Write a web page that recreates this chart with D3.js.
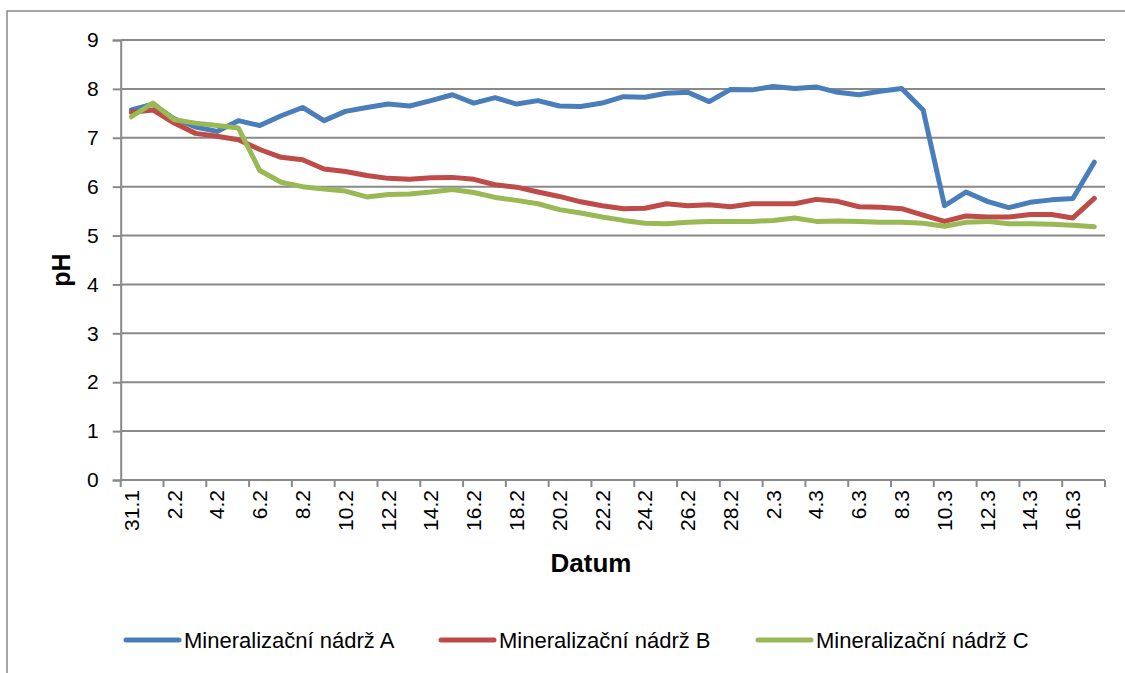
<!DOCTYPE html>
<html>
<head>
<meta charset="utf-8">
<script src="https://cdn.jsdelivr.net/npm/d3@7"></script>
<style>
  html, body { margin: 0; padding: 0; background: #fff; }
  svg { display: block; font-family: "Liberation Sans", Arial, sans-serif; }
</style>
</head>
<body>
<svg id="chart" width="1125" height="673"></svg>
<script>
// Sampling dates (day.month)
const dates = ["31.1","1.2","2.2","3.2","4.2","5.2","6.2","7.2","8.2","9.2","10.2","11.2","12.2","13.2","14.2","15.2","16.2","17.2","18.2","19.2","20.2","21.2","22.2","23.2","24.2","25.2","26.2","27.2","28.2","1.3","2.3","3.3","4.3","5.3","6.3","7.3","8.3","9.3","10.3","11.3","12.3","13.3","14.3","15.3","16.3","17.3"];

// pH readings per tank
const tankA = [7.57,7.69,7.39,7.22,7.13,7.35,7.25,7.45,7.62,7.35,7.54,7.62,7.69,7.65,7.76,7.88,7.71,7.82,7.69,7.76,7.65,7.64,7.71,7.84,7.83,7.91,7.93,7.74,7.99,7.98,8.05,8.01,8.04,7.93,7.88,7.95,8.01,7.57,5.61,5.89,5.70,5.57,5.68,5.73,5.76,6.50];
const tankB = [7.52,7.57,7.30,7.09,7.03,6.96,6.76,6.60,6.55,6.36,6.31,6.23,6.17,6.15,6.18,6.19,6.15,6.04,5.99,5.89,5.80,5.69,5.61,5.55,5.56,5.65,5.61,5.63,5.59,5.65,5.65,5.65,5.74,5.70,5.59,5.58,5.55,5.42,5.29,5.40,5.38,5.38,5.43,5.43,5.36,5.76];
const tankC = [7.43,7.71,7.37,7.30,7.25,7.20,6.33,6.09,6.00,5.95,5.91,5.79,5.84,5.85,5.89,5.94,5.88,5.78,5.72,5.65,5.53,5.46,5.38,5.31,5.25,5.24,5.27,5.29,5.29,5.29,5.31,5.36,5.29,5.30,5.29,5.27,5.27,5.25,5.19,5.27,5.29,5.24,5.24,5.23,5.21,5.18];

const seriesNames = ["Mineralizační nádrž A","Mineralizační nádrž B","Mineralizační nádrž C"];
const seriesColors = ["#4A7EBB","#BE4B48","#98B954"];
const yTicks = [0,1,2,3,4,5,6,7,8,9];

const series = [tankA, tankB, tankC].map((vals, k) => ({ name: seriesNames[k], color: seriesColors[k], values: vals }));

const svg = d3.select("#chart");
const gridColor = "#898989";

// chart frame
svg.append("rect")
  .attr("x", 7).attr("y", 11)
  .attr("width", 1140).attr("height", 700)
  .attr("fill", "none").attr("stroke", gridColor).attr("stroke-width", 1.5);

const plot = { left: 120.7, right: 1105, top: 40, bottom: 480 };

const x = d3.scaleBand().domain(dates).range([plot.left, plot.right]).padding(0);
const y = d3.scaleLinear().domain([0, 9]).range([plot.bottom, plot.top]);
const cx = d => x(d) + x.bandwidth() / 2;

// horizontal gridlines
svg.append("g")
  .selectAll("line")
  .data(yTicks.filter(t => t > 0))
  .join("line")
  .attr("x1", plot.left).attr("x2", plot.right)
  .attr("y1", d => y(d)).attr("y2", d => y(d))
  .attr("stroke", gridColor).attr("stroke-width", 2);

// y axis
const yAxis = svg.append("g")
  .attr("transform", `translate(${plot.left},0)`)
  .call(d3.axisLeft(y).tickValues(yTicks).tickSize(8).tickPadding(14).tickFormat(d3.format("d")));
yAxis.select(".domain").attr("stroke", gridColor).attr("stroke-width", 2);
yAxis.selectAll(".tick line").attr("stroke", gridColor).attr("stroke-width", 2);
yAxis.selectAll(".tick text")
  .attr("font-size", 21).attr("fill", "#000")
  .attr("font-family", "Liberation Sans, Arial, sans-serif");

// x axis: labels on every second date
const labelDates = dates.filter((d, i) => i % 2 === 0);
const xAxis = svg.append("g")
  .attr("transform", `translate(0,${plot.bottom})`)
  .call(d3.axisBottom(x).tickValues(labelDates).tickSize(0).tickPadding(0));
xAxis.select(".domain").remove();
xAxis.selectAll(".tick text")
  .attr("font-size", 21).attr("fill", "#000")
  .attr("font-family", "Liberation Sans, Arial, sans-serif")
  .attr("transform", "rotate(-90)")
  .attr("text-anchor", "end")
  .attr("x", -10).attr("y", 0)
  .attr("dy", "0.35em");

// x axis line and tick marks between every second date
svg.append("line")
  .attr("x1", plot.left).attr("x2", plot.right)
  .attr("y1", plot.bottom).attr("y2", plot.bottom)
  .attr("stroke", gridColor).attr("stroke-width", 2);
const tickPos = labelDates.map(d => x(d)).concat([x.range()[1]]);
svg.append("g")
  .selectAll("line")
  .data(tickPos)
  .join("line")
  .attr("x1", d => d).attr("x2", d => d)
  .attr("y1", plot.bottom).attr("y2", plot.bottom + 7)
  .attr("stroke", gridColor).attr("stroke-width", 2);

// axis titles
svg.append("text")
  .attr("transform", `translate(70,${(plot.top + plot.bottom) / 2 + 10}) rotate(-90)`)
  .attr("text-anchor", "middle")
  .attr("font-size", 25).attr("font-weight", "bold")
  .text("pH");
svg.append("text")
  .attr("x", 591).attr("y", 572)
  .attr("text-anchor", "middle")
  .attr("font-size", 26).attr("font-weight", "bold")
  .text("Datum");

// series lines
const line = d3.line()
  .x((v, i) => cx(dates[i]))
  .y(v => y(v));
svg.append("g")
  .selectAll("path")
  .data(series)
  .join("path")
  .attr("d", s => line(s.values))
  .attr("fill", "none")
  .attr("stroke", s => s.color)
  .attr("stroke-width", 5)
  .attr("stroke-linejoin", "round")
  .attr("stroke-linecap", "round");

// legend
const legendX = [126, 441, 758];
const legendY = 640;
const lg = svg.append("g")
  .selectAll("g")
  .data(series)
  .join("g")
  .attr("transform", (s, i) => `translate(${legendX[i]},${legendY})`);
lg.append("line")
  .attr("x1", 0).attr("x2", 53).attr("y1", 0).attr("y2", 0)
  .attr("stroke", s => s.color).attr("stroke-width", 5)
  .attr("stroke-linecap", "round");
lg.append("text")
  .attr("x", 58).attr("y", 0).attr("dy", "0.35em")
  .attr("font-size", 22).attr("fill", "#000")
  .text(s => s.name);
</script>
</body>
</html>
